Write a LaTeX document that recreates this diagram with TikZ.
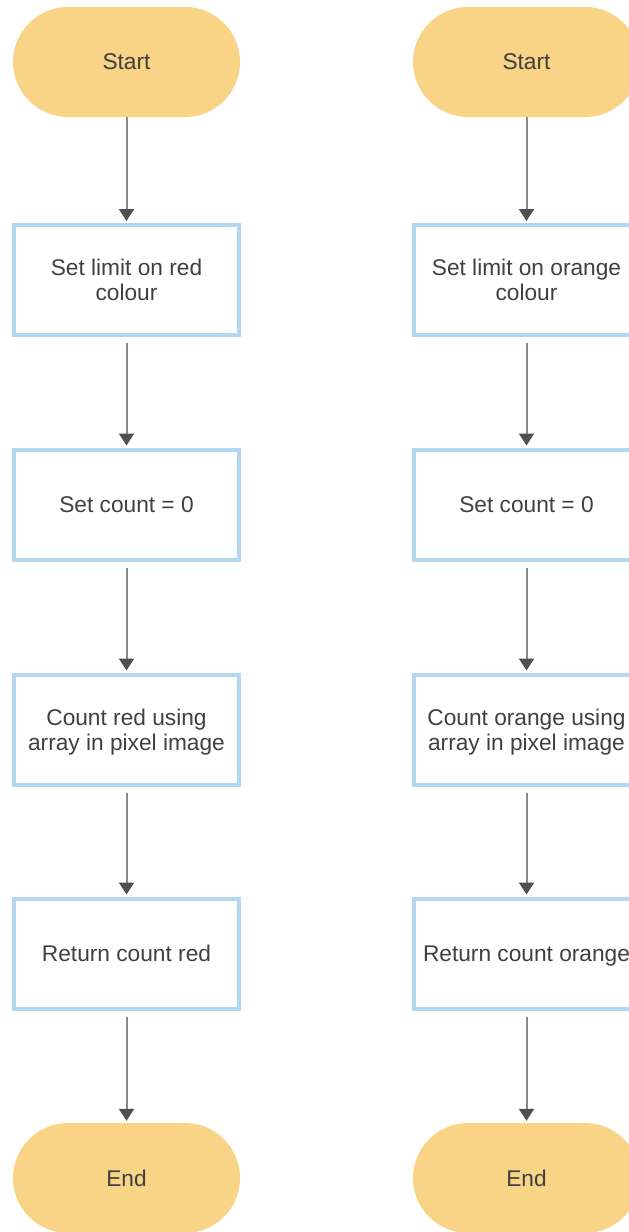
\documentclass[tikz,border=0pt]{standalone}
\usepackage{fontspec}
\setmainfont{Liberation Sans}
\usetikzlibrary{shapes.misc,arrows.meta}
\definecolor{termfill}{HTML}{F9D487}
\definecolor{boxline}{HTML}{B3D7F0}
\definecolor{txt}{HTML}{404040}
\definecolor{arrline}{HTML}{8A8A8A}
\definecolor{arrhead}{HTML}{505050}
\tikzset{
  term/.style={rounded rectangle, fill=termfill, draw=none, minimum width=227pt, minimum height=110pt, inner sep=0pt, text=txt, text depth=0pt, font=\fontsize{22.7}{25}\selectfont},
  stepbox/.style={rectangle, draw=boxline, line width=4pt, fill=white, minimum width=225pt, minimum height=110pt, inner sep=0pt, align=center, text=txt, text depth=0pt, font=\fontsize{22.7}{25}\selectfont},
  flow/.style={draw=arrline, line width=2pt, -{Triangle[length=12pt,width=15pt,fill=arrhead,color=arrhead]}, shorten >=2pt},
}
\begin{document}
\begin{tikzpicture}[x=1pt,y=-1pt]
\clip (0,0) rectangle (629,1232);
\fill[white] (0,0) rectangle (629,1232);
% left column
\node[term] (ls) at (126.5,62) {Start};
\node[stepbox] (l1) at (126.5,280) {Set limit on red\\colour};
\node[stepbox] (l2) at (126.5,504.5) {Set count = 0};
\node[stepbox] (l3) at (126.5,729.5) {Count red using\\array in pixel image};
\node[stepbox] (l4) at (126.5,953.5) {Return count red};
\node[term] (le) at (126.5,1178) {End};
% right column
\node[term] (rs) at (526.5,62) {Start};
\node[stepbox] (r1) at (526.5,280) {Set limit on orange\\colour};
\node[stepbox] (r2) at (526.5,504.5) {Set count = 0};
\node[stepbox] (r3) at (526.5,729.5) {Count orange using\\array in pixel image};
\node[stepbox] (r4) at (526.5,953.5) {Return count orange};
\node[term] (re) at (526.5,1178) {End};
% connectors
\draw[flow] (ls.south) -- (l1.north);
\draw[flow, shorten <=6pt] (l1.south) -- (l2.north);
\draw[flow, shorten <=6pt] (l2.south) -- (l3.north);
\draw[flow, shorten <=6pt] (l3.south) -- (l4.north);
\draw[flow, shorten <=6pt] (l4.south) -- (le.north);
\draw[flow] (rs.south) -- (r1.north);
\draw[flow, shorten <=6pt] (r1.south) -- (r2.north);
\draw[flow, shorten <=6pt] (r2.south) -- (r3.north);
\draw[flow, shorten <=6pt] (r3.south) -- (r4.north);
\draw[flow, shorten <=6pt] (r4.south) -- (re.north);
\end{tikzpicture}
\end{document}
